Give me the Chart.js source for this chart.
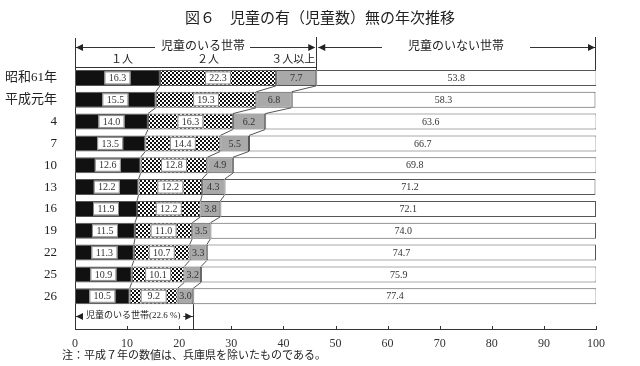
<!DOCTYPE html>
<html>
<head>
<meta charset="utf-8">
<script src="https://cdn.jsdelivr.net/npm/chart.js@4"></script>
<style>
  html, body { margin: 0; padding: 0; background: #fff; }
  #wrap { width: 640px; height: 366px; }
</style>
</head>
<body>
<div id="wrap"><canvas id="chart" width="640" height="366"></canvas></div>
<script>
var categories = ['昭和61年', '平成元年', '4', '7', '10', '13', '16', '19', '22', '25', '26'];
var oneChild = [16.3, 15.5, 14.0, 13.5, 12.6, 12.2, 11.9, 11.5, 11.3, 10.9, 10.5];
var twoChildren = [22.3, 19.3, 16.3, 14.4, 12.8, 12.2, 12.2, 11.0, 10.7, 10.1, 9.2];
var threePlus = [7.7, 6.8, 6.2, 5.5, 4.9, 4.3, 3.8, 3.5, 3.3, 3.2, 3.0];
var noChildren = [53.8, 58.3, 63.6, 66.7, 69.8, 71.2, 72.1, 74.0, 74.7, 75.9, 77.4];
var xTicks = [0, 10, 20, 30, 40, 50, 60, 70, 80, 90, 100];

var FONT = "'Liberation Serif', 'Noto Sans CJK JP', serif";

// checkered fill for the 2人 series
var pc = document.createElement('canvas');
pc.width = 4; pc.height = 4;
var pctx = pc.getContext('2d');
pctx.fillStyle = '#fff';
pctx.fillRect(0, 0, 4, 4);
pctx.fillStyle = '#111';
pctx.fillRect(0, 0, 2, 2);
pctx.fillRect(2, 2, 2, 2);
var checker = pctx.createPattern(pc, 'repeat');

function arrow(ctx, x, y, dir) {
    ctx.beginPath();
    ctx.moveTo(x, y);
    ctx.lineTo(x - dir * 7, y - 3.5);
    ctx.lineTo(x - dir * 7, y + 3.5);
    ctx.closePath();
    ctx.fill();
}

var seriesLines = {
    id: 'seriesLines',
    afterDatasetsDraw: function(chart) {
        var ctx = chart.ctx;
        ctx.save();
        ctx.strokeStyle = '#555';
        ctx.lineWidth = 1;
        for (var d = 0; d < 3; d++) {
            var els = chart.getDatasetMeta(d).data;
            for (var i = 0; i < categories.length - 1; i++) {
                var a = els[i], b = els[i + 1];
                ctx.beginPath();
                ctx.moveTo(a.x, a.y + a.height / 2);
                ctx.lineTo(b.x, b.y - b.height / 2);
                ctx.stroke();
            }
        }
        // value labels
        ctx.font = '10px ' + FONT;
        ctx.textAlign = 'center';
        ctx.textBaseline = 'middle';
        for (var d = 0; d < 4; d++) {
            var els = chart.getDatasetMeta(d).data;
            var vals = chart.data.datasets[d].data;
            for (var i = 0; i < categories.length; i++) {
                var el = els[i];
                var cx = (el.x + el.base) / 2;
                var txt = vals[i].toFixed(1);
                if (d < 2) {
                    ctx.fillStyle = '#fff';
                    ctx.fillRect(cx - 13, el.y - 6.5, 26, 13);
                    ctx.strokeStyle = '#888';
                    ctx.strokeRect(cx - 13 + 0.5, el.y - 6.5 + 0.5, 25, 12);
                }
                ctx.fillStyle = '#333';
                ctx.fillText(txt, cx, el.y + 0.5);
            }
        }
        ctx.restore();
    }
};

var annotations = {
    id: 'annotations',
    afterDraw: function(chart) {
        var ctx = chart.ctx;
        var xs = chart.scales.x;
        var area = chart.chartArea;
        var x0 = xs.getPixelForValue(0);
        var xHas = xs.getPixelForValue(oneChild[0] + twoChildren[0] + threePlus[0]);
        var x100 = xs.getPixelForValue(100);
        var firstBar = chart.getDatasetMeta(0).data[0];
        var lastBar = chart.getDatasetMeta(0).data[categories.length - 1];
        var last = categories.length - 1;
        var xHasLast = xs.getPixelForValue(oneChild[last] + twoChildren[last] + threePlus[last]);
        ctx.save();
        ctx.fillStyle = '#222';
        ctx.strokeStyle = '#333';
        ctx.lineWidth = 1;

        // title
        ctx.font = '15px ' + FONT;
        ctx.textAlign = 'center';
        ctx.textBaseline = 'middle';
        ctx.fillText('図６　児童の有（児童数）無の年次推移', 320, 19);

        // header brackets
        var hy = 47;
        ctx.beginPath();
        ctx.moveTo(x0 + 0.5, 38); ctx.lineTo(x0 + 0.5, area.top);
        ctx.moveTo(Math.round(xHas) + 0.5, 37); ctx.lineTo(Math.round(xHas) + 0.5, firstBar.y - firstBar.height / 2);
        ctx.moveTo(Math.round(x100) - 0.5, 37); ctx.lineTo(Math.round(x100) - 0.5, firstBar.y - firstBar.height / 2);
        ctx.moveTo(x0, area.top + 0.5); ctx.lineTo(xHas, area.top + 0.5);
        ctx.moveTo(x0, hy + 0.5); ctx.lineTo(155, hy + 0.5);
        ctx.moveTo(250, hy + 0.5); ctx.lineTo(xHas - 2, hy + 0.5);
        ctx.moveTo(xHas + 2, hy + 0.5); ctx.lineTo(382, hy + 0.5);
        ctx.moveTo(530, hy + 0.5); ctx.lineTo(x100, hy + 0.5);
        ctx.stroke();
        arrow(ctx, x0 + 1, hy + 0.5, -1);
        arrow(ctx, xHas - 1, hy + 0.5, 1);
        arrow(ctx, xHas + 2, hy + 0.5, -1);
        arrow(ctx, x100 - 1, hy + 0.5, 1);
        ctx.font = '12px ' + FONT;
        ctx.fillText('児童のいる世帯', 203, hy);
        ctx.fillText('児童のいない世帯', 456, hy);

        // series headers
        ctx.font = '11px ' + FONT;
        ctx.fillText('１人', 122, 60);
        ctx.fillText('２人', 208, 60);
        ctx.textAlign = 'right';
        ctx.fillText('３人以上', xHas - 1, 60);

        // bottom bracket for the last year
        var by = 316;
        ctx.beginPath();
        ctx.moveTo(Math.round(xHasLast) + 0.5, lastBar.y + lastBar.height / 2);
        ctx.lineTo(Math.round(xHasLast) + 0.5, area.bottom);
        ctx.moveTo(x0, by + 0.5); ctx.lineTo(x0 + 8, by + 0.5);
        ctx.moveTo(xHasLast - 10, by + 0.5); ctx.lineTo(xHasLast, by + 0.5);
        ctx.stroke();
        arrow(ctx, x0 + 1, by + 0.5, -1);
        arrow(ctx, xHasLast - 1, by + 0.5, 1);
        ctx.font = '9px ' + FONT;
        ctx.textAlign = 'left';
        ctx.fillText('児童のいる世帯(22.6 %)', x0 + 11, by);

        // inward tick marks on the x axis
        ctx.beginPath();
        xTicks.forEach(function(v) {
            var px = Math.round(xs.getPixelForValue(v)) + 0.5;
            ctx.moveTo(px, area.bottom);
            ctx.lineTo(px, area.bottom - 3);
        });
        ctx.stroke();

        // note
        ctx.font = '11px ' + FONT;
        ctx.fillStyle = '#222';
        ctx.fillText('注：平成７年の数値は、兵庫県を除いたものである。', 62, 356);
        ctx.restore();
    }
};

var barBase = {
    borderColor: '#555',
    borderWidth: 1,
    borderSkipped: false,
    barPercentage: 1,
    categoryPercentage: 0.73
};

new Chart(document.getElementById('chart').getContext('2d'), {
    type: 'bar',
    data: {
        labels: categories.concat(['']),
        datasets: [
            Object.assign({ label: '1人', data: oneChild, backgroundColor: '#111' }, barBase),
            Object.assign({ label: '2人', data: twoChildren, backgroundColor: checker }, barBase),
            Object.assign({ label: '3人以上', data: threePlus, backgroundColor: '#a9a9a9' }, barBase),
            Object.assign({ label: '児童のいない世帯', data: noChildren, backgroundColor: '#fff' }, barBase)
        ]
    },
    options: {
        responsive: false,
        animation: false,
        indexAxis: 'y',
        layout: { padding: { top: 67, right: 44, left: 0, bottom: 0 } },
        plugins: {
            legend: { display: false },
            title: { display: false },
            tooltip: { enabled: false }
        },
        scales: {
            x: {
                stacked: true,
                min: 0,
                max: 100,
                afterBuildTicks: function(s) { s.ticks = xTicks.map(function(v) { return { value: v }; }); },
                afterFit: function(s) { s.height = 37; },
                grid: { display: false },
                border: { display: true, color: '#333', width: 1 },
                ticks: { color: '#333', padding: 0, font: { family: FONT, size: 12 } }
            },
            y: {
                stacked: true,
                afterFit: function(s) { s.width = 75; },
                grid: { display: false },
                border: { display: true, color: '#333', width: 1 },
                ticks: { color: '#222', padding: 10, font: { family: FONT, size: 13 } }
            }
        }
    },
    plugins: [seriesLines, annotations]
});
</script>
</body>
</html>
